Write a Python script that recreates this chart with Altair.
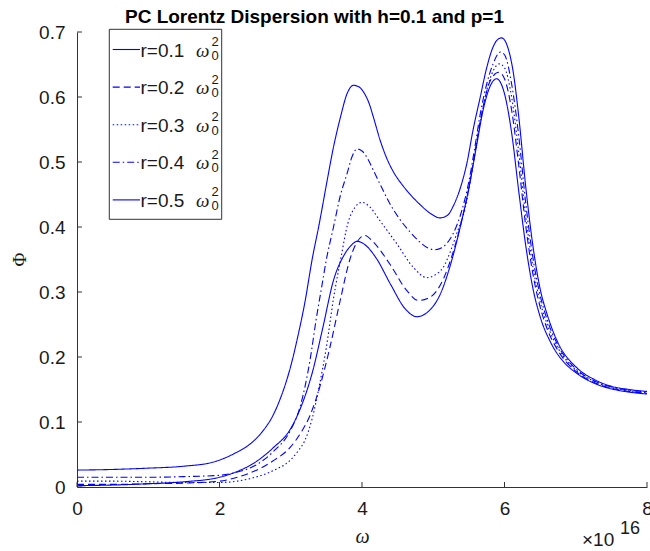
import altair as alt
import pandas as pd

# ---------------- data ----------------
series_labels = ["r=0.1", "r=0.2", "r=0.3", "r=0.4", "r=0.5"]
dash_styles = [[1, 0], [7, 4], [1.5, 2.5], [7, 3, 1.5, 3], [1, 0]]

# r=0.1 (solid, lowest peaks)
x_r1 = [0, 0.5, 1.0, 1.5, 2.0, 2.25, 2.5, 2.75, 3.0, 3.15, 3.3, 3.45, 3.6, 3.75, 3.85, 3.93,
        4.05, 4.2, 4.4, 4.6, 4.77, 4.95, 5.1, 5.25, 5.4, 5.5, 5.6, 5.7, 5.8, 5.89, 6.0, 6.1,
        6.2, 6.3, 6.4, 6.5, 6.65, 6.85, 7.0, 7.25, 7.5, 7.75, 8.0]
y_r1 = [0.002, 0.003, 0.005, 0.008, 0.015, 0.024, 0.038, 0.06, 0.09, 0.125, 0.175, 0.245,
        0.318, 0.357, 0.372, 0.378, 0.372, 0.352, 0.312, 0.275, 0.262, 0.272, 0.297, 0.345,
        0.41, 0.46, 0.52, 0.58, 0.617, 0.628, 0.605, 0.545, 0.455, 0.37, 0.305, 0.262, 0.222,
        0.19, 0.176, 0.16, 0.151, 0.146, 0.143]

# r=0.2 (dashed)
x_r2 = [0, 0.5, 1.0, 1.5, 2.0, 2.25, 2.5, 2.75, 3.0, 3.15, 3.27, 3.41, 3.55, 3.69, 3.83, 3.93,
        4.04, 4.15, 4.39, 4.63, 4.79, 4.92, 5.05, 5.15, 5.24, 5.4, 5.5, 5.6, 5.7, 5.8, 5.92,
        6.0, 6.1, 6.2, 6.3, 6.4, 6.5, 6.6, 6.75, 7.0, 7.25, 7.5, 7.75, 8.0]
y_r2 = [0.004, 0.004, 0.005, 0.006, 0.009, 0.015, 0.025, 0.04, 0.062, 0.085, 0.11, 0.155,
        0.215, 0.285, 0.35, 0.377, 0.387, 0.378, 0.343, 0.302, 0.287, 0.29, 0.302, 0.322,
        0.348, 0.41, 0.46, 0.525, 0.585, 0.625, 0.638, 0.628, 0.58, 0.495, 0.4, 0.327, 0.277,
        0.243, 0.21, 0.178, 0.161, 0.152, 0.147, 0.144]

# r=0.3 (dotted)
x_r3 = [0, 0.5, 1.0, 1.5, 2.0, 2.25, 2.5, 2.75, 3.0, 3.1, 3.2, 3.3, 3.4, 3.5, 3.6, 3.7, 3.8,
        3.9, 4.0, 4.1, 4.25, 4.49, 4.72, 4.91, 5.02, 5.14, 5.25, 5.33, 5.45, 5.55, 5.65, 5.75,
        5.84, 5.93, 6.0, 6.1, 6.2, 6.3, 6.4, 6.5, 6.6, 6.75, 7.0, 7.25, 7.5, 7.75, 8.0]
y_r3 = [0.009, 0.009, 0.008, 0.007, 0.007, 0.009, 0.015, 0.025, 0.042, 0.055, 0.072, 0.105,
        0.155, 0.215, 0.29, 0.35, 0.405, 0.43, 0.438, 0.432, 0.41, 0.374, 0.338, 0.322, 0.326,
        0.338, 0.365, 0.39, 0.43, 0.49, 0.555, 0.61, 0.64, 0.651, 0.645, 0.6, 0.515, 0.415,
        0.338, 0.285, 0.25, 0.214, 0.18, 0.163, 0.153, 0.148, 0.145]

# r=0.4 (dash-dot)
x_r4 = [0, 0.5, 1.0, 1.5, 2.0, 2.25, 2.5, 2.75, 3.0, 3.13, 3.27, 3.36, 3.43, 3.5, 3.6, 3.7,
        3.79, 3.86, 3.93, 4.0, 4.08, 4.16, 4.28, 4.39, 4.53, 4.67, 4.8, 4.92, 5.02, 5.12, 5.2,
        5.28, 5.4, 5.5, 5.58, 5.66, 5.75, 5.84, 5.94, 6.0, 6.1, 6.2, 6.3, 6.4, 6.5, 6.6, 6.75,
        7.0, 7.25, 7.5, 7.75, 8.0]
y_r4 = [0.015, 0.015, 0.015, 0.016, 0.018, 0.023, 0.033, 0.054, 0.088, 0.123, 0.195, 0.26,
        0.305, 0.35, 0.4, 0.45, 0.482, 0.508, 0.52, 0.517, 0.505, 0.487, 0.46, 0.436, 0.412,
        0.393, 0.378, 0.368, 0.365, 0.368, 0.376, 0.39, 0.425, 0.47, 0.52, 0.574, 0.62, 0.651,
        0.669, 0.665, 0.62, 0.54, 0.435, 0.352, 0.295, 0.257, 0.218, 0.182, 0.164, 0.154,
        0.149, 0.146]

# r=0.5 (solid, highest peaks)
x_r5 = [0, 0.5, 1.0, 1.5, 1.9, 2.2, 2.45, 2.6, 2.75, 2.85, 3.0, 3.1, 3.2, 3.3, 3.4, 3.5, 3.6,
        3.7, 3.79, 3.88, 3.95, 4.02, 4.1, 4.16, 4.25, 4.35, 4.44, 4.55, 4.63, 4.81, 5.0, 5.09,
        5.2, 5.28, 5.38, 5.47, 5.56, 5.66, 5.75, 5.84, 5.9, 5.96, 6.05, 6.12, 6.2, 6.3, 6.4,
        6.5, 6.6, 6.75, 7.0, 7.25, 7.5, 7.75, 8.0]
y_r5 = [0.026, 0.027, 0.029, 0.032, 0.038, 0.051, 0.068, 0.085, 0.11, 0.135, 0.186, 0.232,
        0.285, 0.35, 0.405, 0.465, 0.523, 0.57, 0.605, 0.618, 0.616, 0.608, 0.59, 0.569,
        0.535, 0.505, 0.485, 0.467, 0.456, 0.435, 0.418, 0.414, 0.418, 0.432, 0.46, 0.497,
        0.55, 0.6, 0.645, 0.677, 0.688, 0.691, 0.675, 0.64, 0.57, 0.46, 0.37, 0.305, 0.265,
        0.222, 0.185, 0.166, 0.155, 0.15, 0.147]

x_ticks = [0, 2, 4, 6, 8]
y_ticks = [0, 0.1, 0.2, 0.3, 0.4, 0.5, 0.6, 0.7]

title_text = "PC Lorentz Dispersion with h=0.1 and p=1"
x_title = "ω"
y_title = "Φ"
exp_base = "×10"
exp_power = "16"

# ---------------- build table ----------------
rows = []
for lab, xs, ys in zip(series_labels, [x_r1, x_r2, x_r3, x_r4, x_r5],
                       [y_r1, y_r2, y_r3, y_r4, y_r5]):
    for a, b in zip(xs, ys):
        rows.append({"w": a, "phi": b, "series": lab})
df = pd.DataFrame(rows)

W, H = 570, 455
BLUE = "#0000ff"
AX = "#333333"
TXT = "#1a1a1a"
SANS = "Liberation Sans"
SERIF = "Liberation Serif"

x_scale = alt.Scale(domain=[0, 8], nice=False, zero=False)
y_scale = alt.Scale(domain=[0, 0.7], nice=False, zero=False)
dash_scale = alt.Scale(domain=series_labels, range=dash_styles)

x_axis = alt.Axis(values=x_ticks, title=x_title, grid=False, tickSize=0,
                  labelPadding=12, labelFont=SANS, labelFontSize=19, labelColor=TXT,
                  labelFlush=False, labelOverlap=False,
                  domainColor=AX, domainWidth=1,
                  titleFont=SERIF, titleFontStyle="italic", titleFontWeight="normal",
                  titleFontSize=20, titleColor=TXT, titleX=285, titleY=55,
                  titleAlign="center", titleBaseline="alphabetic")
y_axis = alt.Axis(values=y_ticks, format=".1~f", title=y_title, grid=False, tickSize=0,
                  labelPadding=12, labelFont=SANS, labelFontSize=19, labelColor=TXT,
                  labelFlush=False, labelOverlap=False,
                  domainColor=AX, domainWidth=1,
                  titleFont=SERIF, titleFontWeight="normal", titleFontSize=19,
                  titleColor=TXT, titleX=-58, titleY=227, titleAngle=270,
                  titleAlign="center", titleBaseline="middle")

lines = alt.Chart(df).mark_line(strokeWidth=1.1, color=BLUE, interpolate="monotone").encode(
    x=alt.X("w:Q", scale=x_scale, axis=x_axis, title=x_title),
    y=alt.Y("phi:Q", scale=y_scale, axis=y_axis, title=y_title),
    strokeDash=alt.StrokeDash("series:N", scale=dash_scale, legend=None),
    detail="series:N",
)

# inward tick marks (same fields / scales / axes as the curves)
xt = alt.Chart(pd.DataFrame({"w": x_ticks})).mark_rule(color=AX, strokeWidth=1).encode(
    x=alt.X("w:Q", scale=x_scale, axis=x_axis, title=x_title),
    y=alt.value(H), y2=alt.value(H - 5))
yt = alt.Chart(pd.DataFrame({"phi": y_ticks})).mark_rule(color=AX, strokeWidth=1).encode(
    y=alt.Y("phi:Q", scale=y_scale, axis=y_axis, title=y_title),
    x=alt.value(0), x2=alt.value(5))

one = pd.DataFrame({"t": [title_text]})
title = alt.Chart(one).mark_text(font=SANS, fontSize=19, fontWeight="bold", color="black",
                                 align="center", baseline="alphabetic").encode(
    text="t:N", x=alt.value(237.5), y=alt.value(-9))

exp1 = alt.Chart(pd.DataFrame({"t": [exp_base]})).mark_text(
    font=SANS, fontSize=19, color=TXT, align="left", baseline="alphabetic").encode(
    text="t:N", x=alt.value(505), y=alt.value(514))
exp2 = alt.Chart(pd.DataFrame({"t": [exp_power]})).mark_text(
    font=SANS, fontSize=18, color=TXT, align="left", baseline="alphabetic").encode(
    text="t:N", x=alt.value(543), y=alt.value(502))

# legend box
LX0, LX1, LY0, LY1 = 32.3, 144.7, -2.7, 187.3
box = alt.Chart(pd.DataFrame({"t": ["box"]})).mark_rect(
    fill="white", stroke=AX, strokeWidth=1).encode(
    x=alt.value(LX0), x2=alt.value(LX1), y=alt.value(LY0), y2=alt.value(LY1))

legend_layers = [box]
ENTRY_Y0, ENTRY_STEP = 17.5, 37.6
for i, (lab, dash) in enumerate(zip(series_labels, dash_styles)):
    ly = ENTRY_Y0 + i * ENTRY_STEP
    d = pd.DataFrame({"series": [lab], "lab": [lab], "om": ["ω"], "sup": ["2"], "sub": ["0"]})
    base = alt.Chart(d)
    rule_kw = dict(strokeWidth=1.1, color=BLUE)
    if dash != [1, 0]:
        rule_kw["strokeDash"] = dash
    legend_layers.append(base.mark_rule(**rule_kw).encode(
        x=alt.value(35.7), x2=alt.value(63), y=alt.value(ly)))
    legend_layers.append(base.mark_text(font=SANS, fontSize=19, color=TXT, align="left",
                                        baseline="middle").encode(
        text="lab:N", x=alt.value(63.5), y=alt.value(ly + 1)))
    legend_layers.append(base.mark_text(font=SERIF, fontSize=19, fontStyle="italic", color=TXT,
                                        align="left", baseline="middle").encode(
        text="om:N", x=alt.value(119), y=alt.value(ly + 1)))
    legend_layers.append(base.mark_text(font=SANS, fontSize=13, color=TXT, align="left",
                                        baseline="middle").encode(
        text="sup:N", x=alt.value(134.5), y=alt.value(ly - 7.5)))
    legend_layers.append(base.mark_text(font=SANS, fontSize=13, color=TXT, align="left",
                                        baseline="middle").encode(
        text="sub:N", x=alt.value(134.5), y=alt.value(ly + 6)))

chart = alt.layer(lines, xt, yt, title, exp1, exp2, *legend_layers).properties(
    width=W, height=H,
    autosize=alt.AutoSizeParams(type="none"),
    padding={"left": 77, "top": 32, "right": 3, "bottom": 64},
    background="white",
).configure_view(stroke=None)

chart.save("out.html", embed_options={"renderer": "svg", "actions": False})
